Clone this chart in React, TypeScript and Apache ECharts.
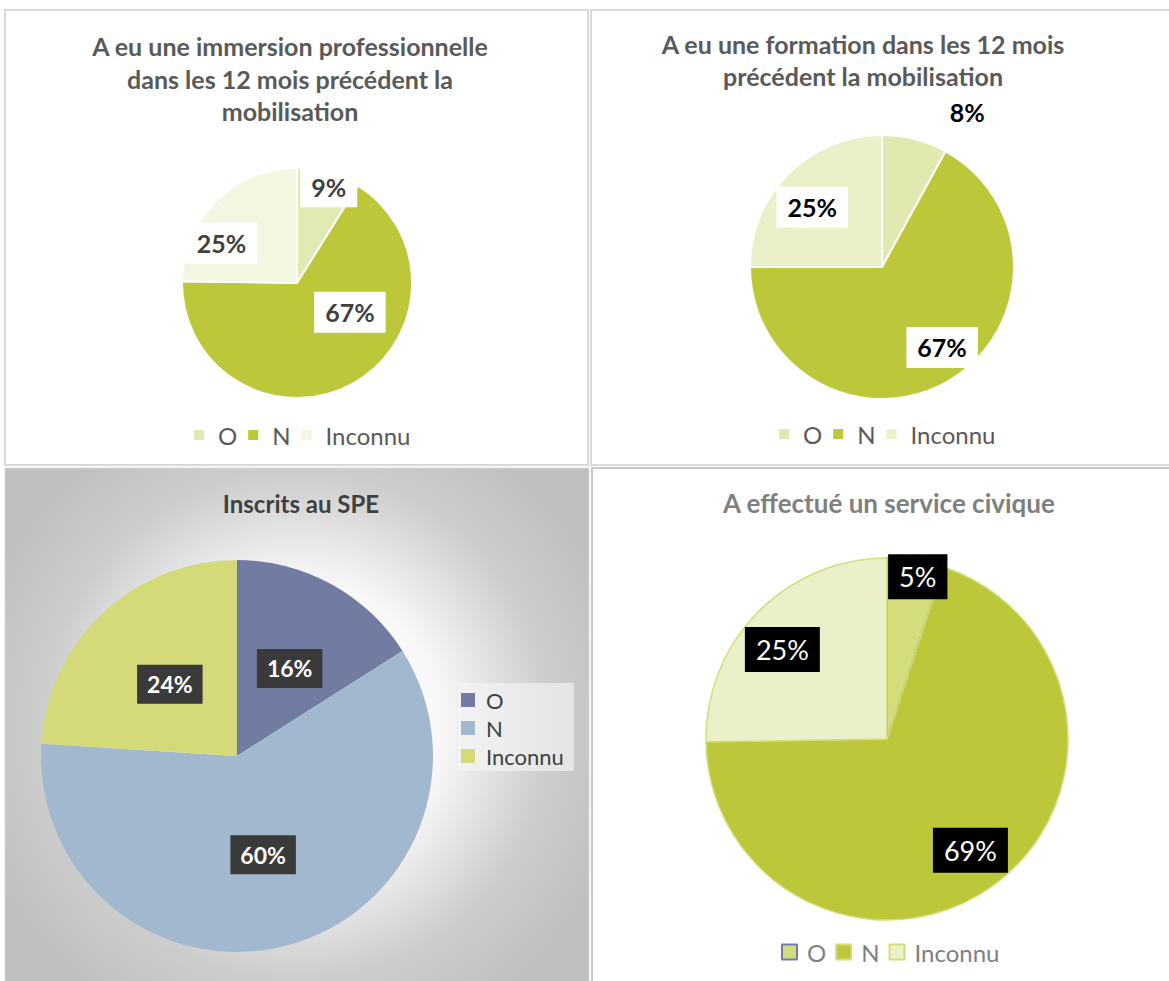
import React, { useEffect, useRef } from "react";
import * as echarts from "echarts";

// ---------- data ----------
const CATEGORIES = ["O", "N", "Inconnu"];

const TITLE_IMMERSION = "A eu une immersion professionnelle\ndans les 12 mois précédent la\nmobilisation";
const TITLE_FORMATION = "A eu une formation dans les 12 mois\nprécédent la mobilisation";
const TITLE_SPE = "Inscrits au SPE";
const TITLE_CIVIQUE = "A effectué un service civique";

const IMMERSION_VALUES = [9, 67, 25];
const FORMATION_VALUES = [8, 67, 25];
const SPE_VALUES = [16, 60, 24];
const CIVIQUE_VALUES = [5, 69, 25];

// ---------- styles ----------
const FONT = "Lato, 'Open Sans', sans-serif";
const IMMERSION_COLORS = ["#e2eab3", "#bcc83a", "#f3f6e0"];
const FORMATION_COLORS = ["#e1e9b0", "#bcc83a", "#ebf0c8"];
const SPE_COLORS = ["#727ca3", "#a2b8cf", "#d4da7a"];
const CIVIQUE_COLORS = ["#d4dc7c", "#bcc83a", "#ebf0c8"];
const CIVIQUE_BORDERS = ["#6f7fae", "#d4dc7c", "#d4dc7c"];

// label shifts from the default "inside" position (px)
const IMMERSION_SHIFT = [[15, -38], [24, -24], [-33, 3]];
const FORMATION_SHIFT = [[68, -88], [25, 21], [-21, -11]];
const SPE_SHIFT = [[4, 1], [1, 1], [2, 2]];
const CIVIQUE_SHIFT = [[16, -70], [28, 36], [-38, -24]];

function pieData(values: number[], colors: string[], borders?: string[]) {
  return CATEGORIES.map((name, i) => ({
    name,
    value: values[i],
    itemStyle: borders
      ? { color: colors[i], borderColor: borders[i], borderWidth: 1.5 }
      : { color: colors[i] },
  }));
}

function legendData(colors: string[], borders?: string[]) {
  return CATEGORIES.map((name, i) => ({
    name,
    itemStyle: borders
      ? { color: colors[i], borderColor: borders[i], borderWidth: 2 }
      : { color: colors[i], borderWidth: 0 },
  }));
}

export default function App() {
  const ref = useRef<HTMLDivElement>(null);

  useEffect(() => {
    if (!ref.current) return;
    const chart = echarts.init(ref.current, null, { renderer: "svg" });

    const shiftLayout = (shift: number[][]) => (p: any) => ({
      dx: shift[p.dataIndex][0],
      dy: shift[p.dataIndex][1],
    });

    const option: any = {
      animation: false,
      backgroundColor: "#ffffff",
      graphic: [
        {
          type: "rect",
          z: -10,
          shape: { x: 5, y: 10, width: 583, height: 455 },
          style: { fill: "#ffffff", stroke: "#d9d9d9", lineWidth: 2 },
        },
        {
          type: "rect",
          z: -10,
          shape: { x: 591, y: 10, width: 600, height: 455 },
          style: { fill: "#ffffff", stroke: "#d9d9d9", lineWidth: 2 },
        },
        {
          type: "rect",
          z: -10,
          shape: { x: 5, y: 468, width: 584, height: 520 },
          style: {
            fill: {
              type: "radial",
              x: 297,
              y: 725,
              r: 340,
              global: true,
              colorStops: [
                { offset: 0, color: "#ffffff" },
                { offset: 0.42, color: "#f8f8f8" },
                { offset: 0.74, color: "#cdcdcd" },
                { offset: 1, color: "#bfbfbf" },
              ],
            },
            stroke: "#d9d9d9",
            lineWidth: 1,
          },
        },
        {
          type: "rect",
          z: -10,
          shape: { x: 592, y: 468, width: 600, height: 600 },
          style: { fill: "#ffffff", stroke: "#c8c8c8", lineWidth: 2 },
        },
      ],
      title: [
        {
          text: TITLE_IMMERSION,
          left: 290,
          top: 30,
          textAlign: "center",
          padding: 0,
          textStyle: { fontFamily: FONT, fontSize: 25, fontWeight: "bold", color: "#595959", lineHeight: 32.5 },
        },
        {
          text: TITLE_FORMATION,
          left: 863,
          top: 28,
          textAlign: "center",
          padding: 0,
          textStyle: { fontFamily: FONT, fontSize: 25, fontWeight: "bold", color: "#595959", lineHeight: 32 },
        },
        {
          text: TITLE_SPE,
          left: 301,
          top: 487,
          textAlign: "center",
          padding: 0,
          textStyle: { fontFamily: FONT, fontSize: 24, fontWeight: "bold", color: "#404040", lineHeight: 32 },
        },
        {
          text: TITLE_CIVIQUE,
          left: 889,
          top: 487,
          textAlign: "center",
          padding: 0,
          textStyle: { fontFamily: FONT, fontSize: 26, fontWeight: "bold", color: "#7f7f7f", lineHeight: 32 },
        },
      ],
      legend: [
        {
          left: 194,
          top: 423,
          padding: 0,
          icon: "rect",
          itemWidth: 10,
          itemHeight: 10,
          itemGap: 11,
          selectedMode: false,
          textStyle: { fontFamily: FONT, fontSize: 24, color: "#595959", padding: [0, 0, 0, 9] },
          data: legendData(IMMERSION_COLORS),
        },
        {
          left: 779,
          top: 422,
          padding: 0,
          icon: "rect",
          itemWidth: 10,
          itemHeight: 10,
          itemGap: 11,
          selectedMode: false,
          textStyle: { fontFamily: FONT, fontSize: 24, color: "#595959", padding: [0, 0, 0, 9] },
          data: legendData(FORMATION_COLORS),
        },
        {
          left: 458,
          top: 683,
          orient: "vertical",
          padding: [6, 10, 4, 3],
          backgroundColor: "rgba(245,245,245,0.65)",
          icon: "rect",
          itemWidth: 14,
          itemHeight: 14,
          itemGap: 6,
          selectedMode: false,
          textStyle: { fontFamily: FONT, fontSize: 22, color: "#404040", lineHeight: 21, padding: [0, 0, 0, 6] },
          data: legendData(SPE_COLORS),
        },
        {
          left: 781,
          top: 940,
          padding: 0,
          icon: "rect",
          itemWidth: 15,
          itemHeight: 15,
          itemGap: 9,
          selectedMode: false,
          textStyle: { fontFamily: FONT, fontSize: 24, color: "#7f7f7f", padding: [0, 0, 0, 5] },
          data: legendData(CIVIQUE_COLORS, CIVIQUE_BORDERS),
        },
      ],
      series: [
        {
          type: "pie",
          name: TITLE_IMMERSION,
          center: [297, 283],
          radius: 115,
          startAngle: 90,
          clockwise: true,
          itemStyle: { borderColor: "#ffffff", borderWidth: 2 },
          emphasis: { disabled: true },
          data: pieData(IMMERSION_VALUES, IMMERSION_COLORS),
          label: {
            show: true,
            position: "inside",
            formatter: (p: any) => p.value + "%",
            fontFamily: FONT,
            fontSize: 25,
            fontWeight: "bold",
            color: "#404040",
            backgroundColor: "#ffffff",
            padding: [9, 11, 7, 11],
          },
          labelLine: { show: false },
          labelLayout: shiftLayout(IMMERSION_SHIFT),
        },
        {
          type: "pie",
          name: TITLE_FORMATION,
          center: [882, 267],
          radius: 132,
          startAngle: 90,
          clockwise: true,
          itemStyle: { borderColor: "#ffffff", borderWidth: 2 },
          emphasis: { disabled: true },
          data: pieData(FORMATION_VALUES, FORMATION_COLORS),
          label: {
            show: true,
            position: "inside",
            formatter: (p: any) => p.value + "%",
            fontFamily: FONT,
            fontSize: 25,
            fontWeight: "bold",
            color: "#000000",
            backgroundColor: "#ffffff",
            padding: [9, 11, 7, 11],
          },
          labelLine: { show: false },
          labelLayout: shiftLayout(FORMATION_SHIFT),
        },
        {
          type: "pie",
          name: TITLE_SPE,
          center: [237, 756],
          radius: 196,
          startAngle: 90,
          clockwise: true,
          emphasis: { disabled: true },
          data: pieData(SPE_VALUES, SPE_COLORS),
          label: {
            show: true,
            position: "inside",
            formatter: (p: any) => p.value + "%",
            fontFamily: FONT,
            fontSize: 23,
            fontWeight: "bold",
            color: "#ffffff",
            backgroundColor: "#3a3a3a",
            padding: [9, 10, 7, 10],
          },
          labelLine: { show: false },
          labelLayout: shiftLayout(SPE_SHIFT),
        },
        {
          type: "pie",
          name: TITLE_CIVIQUE,
          center: [887, 739],
          radius: 181,
          startAngle: 90,
          clockwise: true,
          emphasis: { disabled: true },
          data: pieData(CIVIQUE_VALUES, CIVIQUE_COLORS, CIVIQUE_BORDERS),
          label: {
            show: true,
            position: "inside",
            formatter: (p: any) => p.value + "%",
            fontFamily: FONT,
            fontSize: 27,
            fontWeight: "normal",
            color: "#ffffff",
            backgroundColor: "#000000",
            padding: [10, 11, 8, 11],
          },
          labelLine: { show: false },
          labelLayout: shiftLayout(CIVIQUE_SHIFT),
        },
      ],
    };

    chart.setOption(option);
    return () => chart.dispose();
  }, []);

  return (
    <div
      ref={ref}
      style={{ position: "absolute", left: 0, top: 0, width: 1169, height: 981 }}
    />
  );
}
